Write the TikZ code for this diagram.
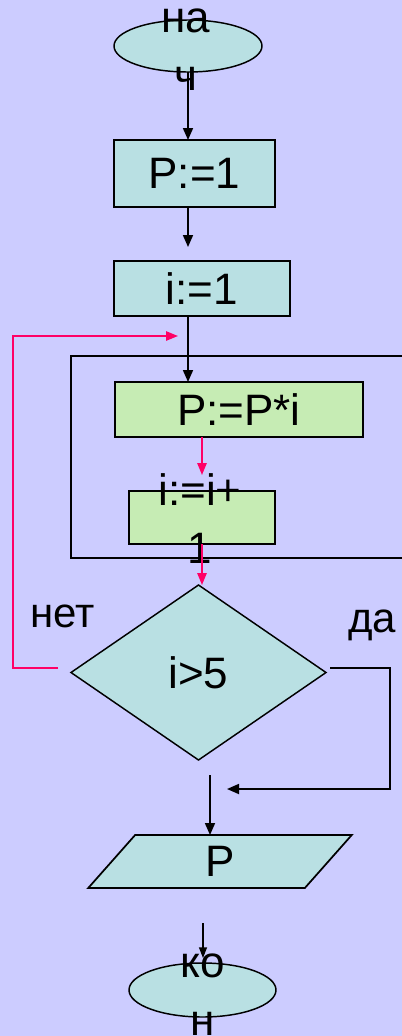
\documentclass[tikz,border=0pt]{standalone}
\usepackage{fontspec}
\setmainfont{Liberation Sans}
\usetikzlibrary{shapes.geometric,arrows.meta,calc}
\definecolor{bgc}{RGB}{204,204,255}
\definecolor{cyanfill}{RGB}{185,224,227}
\definecolor{greenfill}{RGB}{198,236,180}
\definecolor{loopred}{RGB}{255,0,102}
\tikzset{
  x=0.75pt, y=-0.75pt,
  every node/.style={inner sep=0pt, outer sep=0pt},
  bigtext/.style={font=\fontsize{33}{43}\selectfont},
  labtext/.style={font=\fontsize{31.5}{40}\selectfont},
  twoline/.style={font=\fontsize{33}{43}\selectfont, align=center, anchor=base},
  terminal/.style={draw=black, line width=1.1pt, fill=cyanfill, ellipse},
  procbox/.style={draw=black, line width=1.3pt, fill=cyanfill, rectangle, bigtext},
  loopbox/.style={draw=black, line width=1.3pt, fill=greenfill, rectangle, bigtext},
  decision/.style={draw=black, line width=1.1pt, fill=cyanfill, diamond, bigtext},
  iobox/.style={draw=black, line width=1.3pt, fill=cyanfill, trapezium, trapezium left angle=75, trapezium right angle=105, trapezium stretches=true, bigtext},
  arr/.style={draw=black, line width=1.3pt, -{Triangle[length=9pt,width=7.5pt]}},
  redarr/.style={draw=loopred, line width=1.3pt, -{Triangle[length=9pt,width=7pt]}},
  plain/.style={draw=black, line width=1.3pt},
  thinarr/.style={draw=black, line width=1pt, -{Triangle[length=8pt,width=6pt]}},
}
\begin{document}
\begin{tikzpicture}
\fill[bgc] (0,0) rectangle (402,1036);
\useasboundingbox (0,0) rectangle (402,1036);

% loop frame (open to the right)
\draw[plain] (404,356) -- (71,356) -- (71,558) -- (404,558);

% nodes
\node[terminal, minimum width=111pt, minimum height=39pt] (start) at (188,46) {};
\node[twoline] (startt) at (186,90) {на\\ч};

\node[procbox, minimum width=120.75pt, minimum height=50.25pt] (p1) at (194.5,173.5) {P:=1};
\node[procbox, minimum width=132pt, minimum height=41.25pt] (i1) at (202,288.5) {i:=1};
\node[loopbox, minimum width=186pt, minimum height=41.25pt] (pp) at (239,409.5) {P:=P*i};
\node[loopbox, minimum width=109.5pt, minimum height=39.75pt] (ii) at (202,517.5) {};
\node[twoline] (iit) at (200,563) {i:=i+\\1};

\node[decision, minimum width=191.25pt, minimum height=131.25pt] (dia) at (198.5,672.5) {i>5};
\node[labtext, anchor=base] (no) at (63,627) {нет};
\node[labtext, anchor=base] (yes) at (372,632) {да};

\node[iobox, minimum width=198pt, minimum height=39.75pt] (out) at (220,861.5) {P};

\node[terminal, minimum width=110.25pt, minimum height=40.5pt] (end) at (202.5,990) {};
\node[twoline] (endt) at (203,1035) {ко\\н};

% helper coordinates
\coordinate (noStart) at (58,668);
\coordinate (noCorner) at (13,336);
\coordinate (loopIn) at (178,336);
\coordinate (yesStart) at (330,668);
\coordinate (yesCorner) at (390,789);
\coordinate (yesEnd) at (227,789);
\coordinate (joinTop) at (210,775);
\coordinate (outTop) at (210,835);
\coordinate (outArrTop) at (203,923);
\coordinate (endTop) at (203,958);

% connectors
\draw[arr] (start.south) -- (start.south |- p1.north);
\draw[arr, shorten >=10.5pt] (start.south |- p1.south) -- (start.south |- i1.north);
\draw[arr] (start.south |- i1.south) -- (start.south |- pp.north);
\draw[redarr, shorten >=12pt] (ii.north |- pp.south) -- (ii.north);
\draw[redarr] (ii.south) -- (ii.south |- dia.north);
\draw[redarr] (noStart) -| (noCorner) -- (loopIn);
\draw[arr] (yesStart) -| (yesCorner) -- (yesEnd);
\draw[arr] (joinTop) -- (outTop);
\draw[thinarr] (outArrTop) -- (endTop);
\end{tikzpicture}
\end{document}
